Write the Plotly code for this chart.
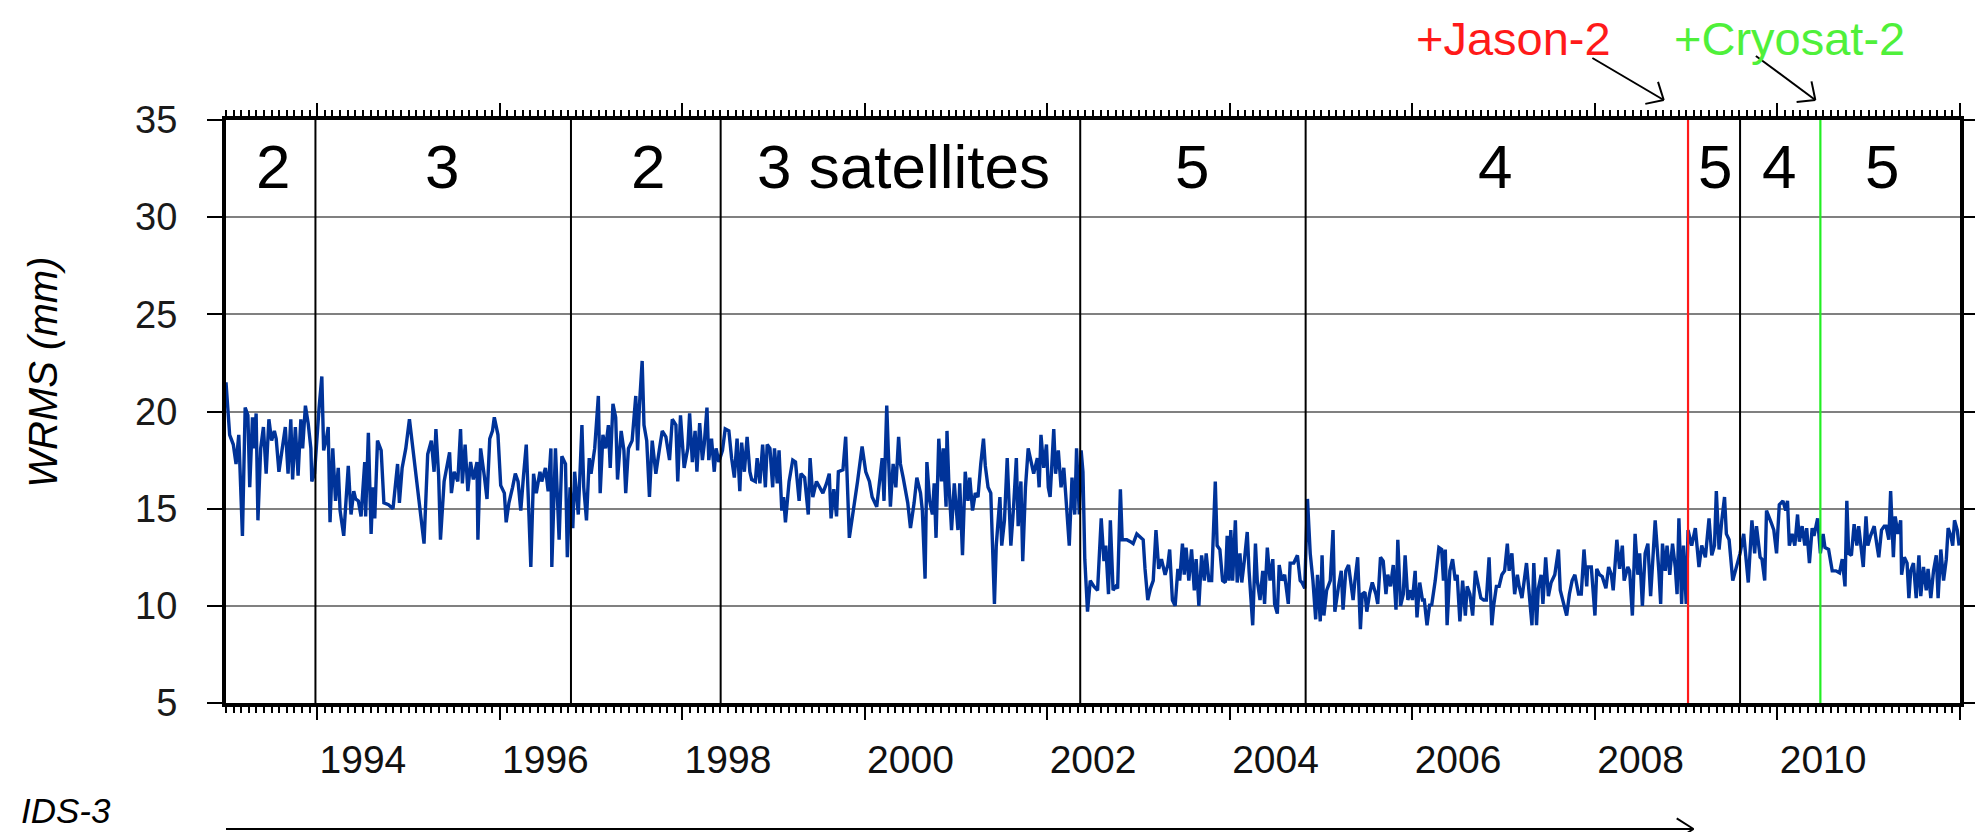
import math
import plotly.graph_objects as go

# ---------------- data (decimal year, WRMS in mm) ----------------
wrms_1993_1997 = [
    (1993.00, 21.5), (1993.04, 18.8), (1993.08, 18.3), (1993.11, 17.3), (1993.14, 18.8), (1993.18, 13.6), (1993.21, 20.2), (1993.24, 19.8), (1993.26, 16.1), (1993.29, 19.7),
    (1993.31, 18.1), (1993.33, 19.9), (1993.35, 14.4), (1993.38, 18.1), (1993.41, 19.2), (1993.44, 16.8), (1993.47, 19.6), (1993.50, 18.5), (1993.53, 19.0), (1993.55, 18.6),
    (1993.58, 16.9), (1993.60, 17.6), (1993.63, 18.6), (1993.65, 19.2), (1993.68, 16.8), (1993.71, 19.6), (1993.73, 16.5), (1993.76, 19.2), (1993.79, 16.7), (1993.82, 19.6),
    (1993.84, 18.1), (1993.87, 20.3), (1993.90, 19.4), (1993.93, 18.1), (1993.94, 16.4), (1993.97, 16.8), (1994.02, 20.2), (1994.05, 21.8), (1994.07, 18.0), (1994.10, 18.6),
    (1994.12, 19.2), (1994.14, 14.3), (1994.17, 18.1), (1994.20, 15.4), (1994.23, 17.1), (1994.25, 14.9), (1994.29, 13.6), (1994.31, 15.3), (1994.34, 17.2), (1994.37, 14.7),
    (1994.40, 15.9), (1994.42, 15.5), (1994.45, 15.4), (1994.48, 14.6), (1994.52, 17.4), (1994.53, 14.6), (1994.56, 18.9), (1994.59, 13.7), (1994.61, 16.1), (1994.63, 14.5),
    (1994.66, 18.5), (1994.70, 18.0), (1994.73, 15.3), (1994.78, 15.2), (1994.83, 15.0), (1994.88, 17.3), (1994.90, 15.3), (1994.93, 17.1), (1994.97, 18.1), (1995.01, 19.6),
    (1995.05, 18.0), (1995.10, 15.7), (1995.17, 13.2), (1995.21, 17.8), (1995.25, 18.5), (1995.28, 16.9), (1995.30, 19.1), (1995.33, 16.7), (1995.35, 13.4), (1995.39, 16.4),
    (1995.42, 17.1), (1995.45, 17.9), (1995.47, 15.8), (1995.50, 16.9), (1995.54, 16.4), (1995.57, 19.1), (1995.59, 16.3), (1995.62, 18.3), (1995.65, 15.9), (1995.68, 17.4),
    (1995.71, 16.5), (1995.75, 17.4), (1995.76, 13.4), (1995.79, 18.1), (1995.83, 16.7), (1995.86, 15.5), (1995.89, 18.6), (1995.92, 19.0), (1995.94, 19.7), (1995.98, 18.8),
    (1996.01, 16.2), (1996.05, 15.8), (1996.07, 14.3), (1996.10, 15.3), (1996.14, 16.1), (1996.17, 16.8), (1996.20, 16.4), (1996.23, 14.9), (1996.26, 16.7), (1996.29, 18.3),
    (1996.32, 14.6), (1996.34, 12.0), (1996.37, 16.8), (1996.40, 15.8), (1996.44, 16.9), (1996.46, 16.4), (1996.50, 17.1), (1996.53, 15.9), (1996.56, 18.1), (1996.57, 12.0),
    (1996.61, 18.1), (1996.63, 15.2), (1996.65, 13.4), (1996.68, 17.7), (1996.72, 17.3), (1996.74, 12.5), (1996.77, 16.1), (1996.80, 14.0), (1996.82, 16.9), (1996.86, 14.7),
    (1996.90, 19.3), (1996.92, 16.1), (1996.95, 14.4), (1996.98, 17.6), (1997.00, 16.8), (1997.04, 18.1), (1997.08, 20.8), (1997.10, 15.8), (1997.13, 18.8), (1997.16, 18.1),
    (1997.19, 19.3), (1997.21, 17.1), (1997.24, 20.4), (1997.27, 19.7), (1997.29, 16.5), (1997.33, 19.0), (1997.36, 18.0), (1997.38, 15.8), (1997.41, 18.1), (1997.45, 18.5),
    (1997.49, 20.8), (1997.51, 18.0), (1997.53, 20.3), (1997.56, 22.6), (1997.58, 19.3), (1997.61, 18.5), (1997.64, 15.6), (1997.67, 18.5), (1997.71, 16.8), (1997.75, 18.1),
]

wrms_1997_2002 = [
    (1997.78, 19.0), (1997.82, 18.7), (1997.86, 17.5), (1997.89, 19.6), (1997.93, 19.3), (1997.95, 16.4), (1997.98, 19.8), (1998.02, 17.1), (1998.06, 18.1), (1998.08, 19.9),
    (1998.11, 17.4), (1998.14, 19.0), (1998.16, 16.9), (1998.19, 19.4), (1998.22, 17.5), (1998.24, 18.3), (1998.27, 20.2), (1998.29, 17.5), (1998.32, 18.6), (1998.35, 16.9),
    (1998.37, 18.1), (1998.40, 17.4), (1998.44, 18.0), (1998.47, 19.1), (1998.51, 19.0), (1998.54, 17.6), (1998.57, 16.6), (1998.60, 18.6), (1998.63, 15.9), (1998.65, 18.4),
    (1998.68, 16.9), (1998.71, 18.7), (1998.74, 16.9), (1998.76, 16.5), (1998.80, 16.4), (1998.82, 17.6), (1998.85, 16.3), (1998.88, 18.3), (1998.91, 16.1), (1998.93, 18.3),
    (1998.96, 18.1), (1998.99, 16.1), (1999.01, 18.1), (1999.04, 16.3), (1999.06, 18.0), (1999.09, 14.9), (1999.11, 15.6), (1999.13, 14.3), (1999.17, 16.4), (1999.21, 17.5),
    (1999.24, 17.4), (1999.28, 15.4), (1999.30, 16.8), (1999.34, 16.6), (1999.38, 14.7), (1999.40, 17.6), (1999.43, 15.6), (1999.47, 16.4), (1999.50, 16.1), (1999.54, 15.8),
    (1999.58, 16.3), (1999.61, 16.8), (1999.63, 14.5), (1999.66, 16.0), (1999.69, 14.6), (1999.71, 16.9), (1999.76, 17.0), (1999.79, 18.7), (1999.83, 13.5), (1999.87, 14.7),
    (1999.92, 16.4), (1999.97, 18.2), (2000.01, 16.9), (2000.05, 16.4), (2000.08, 15.6), (2000.13, 15.1), (2000.16, 16.3), (2000.19, 17.6), (2000.21, 15.4), (2000.24, 20.3),
    (2000.26, 17.6), (2000.28, 15.1), (2000.31, 17.3), (2000.34, 16.1), (2000.37, 18.7), (2000.39, 17.3), (2000.42, 16.6), (2000.45, 15.8), (2000.47, 15.3), (2000.50, 14.0),
    (2000.54, 15.3), (2000.57, 16.6), (2000.61, 15.8), (2000.63, 14.9), (2000.66, 11.4), (2000.68, 17.4), (2000.71, 15.4), (2000.74, 14.7), (2000.76, 16.3), (2000.78, 13.5),
    (2000.81, 18.6), (2000.84, 16.4), (2000.86, 18.1), (2000.89, 15.1), (2000.90, 19.0), (2000.92, 16.4), (2000.95, 13.9), (2000.98, 16.3), (2001.02, 13.9), (2001.04, 16.3),
    (2001.07, 12.6), (2001.10, 16.9), (2001.13, 15.4), (2001.15, 16.6), (2001.18, 14.9), (2001.21, 15.8), (2001.24, 15.6), (2001.27, 17.3), (2001.30, 18.6), (2001.32, 17.2),
    (2001.35, 16.1), (2001.38, 15.8), (2001.42, 10.1), (2001.44, 13.1), (2001.48, 15.6), (2001.50, 13.1), (2001.53, 14.4), (2001.56, 17.6), (2001.59, 14.1), (2001.60, 13.1),
    (2001.63, 15.1), (2001.66, 17.6), (2001.68, 14.1), (2001.71, 16.4), (2001.73, 12.3), (2001.76, 16.1), (2001.79, 18.1), (2001.82, 17.5), (2001.85, 16.8), (2001.89, 17.6),
    (2001.91, 16.1), (2001.93, 18.8), (2001.96, 17.1), (2001.99, 18.3), (2002.01, 16.1), (2002.03, 15.6), (2002.07, 19.1), (2002.09, 16.8), (2002.12, 18.0), (2002.15, 16.1),
    (2002.18, 17.1), (2002.20, 15.8), (2002.24, 13.1), (2002.27, 16.6), (2002.30, 14.7), (2002.32, 18.1), (2002.35, 14.7), (2002.37, 18.0), (2002.39, 16.9), (2002.41, 12.4),
    (2002.44, 9.7),
]

wrms_2002_2007 = [
    (2002.47, 11.3), (2002.51, 11.0), (2002.55, 10.8), (2002.59, 14.5), (2002.62, 12.3), (2002.64, 13.1), (2002.67, 10.6), (2002.69, 14.4), (2002.72, 10.8), (2002.75, 11.0),
    (2002.77, 10.9), (2002.80, 16.0), (2002.82, 13.4), (2002.87, 13.4), (2002.91, 13.3), (2002.94, 13.2), (2002.98, 13.7), (2003.02, 13.5), (2003.05, 13.4), (2003.07, 11.9),
    (2003.10, 10.3), (2003.13, 10.9), (2003.16, 11.3), (2003.19, 13.9), (2003.22, 11.9), (2003.25, 12.4), (2003.29, 11.6), (2003.32, 12.1), (2003.34, 12.9), (2003.37, 10.3),
    (2003.40, 10.0), (2003.43, 11.9), (2003.45, 11.3), (2003.48, 13.2), (2003.50, 11.6), (2003.52, 13.0), (2003.55, 11.3), (2003.58, 12.9), (2003.61, 10.8), (2003.63, 12.4),
    (2003.66, 10.0), (2003.69, 12.6), (2003.72, 11.3), (2003.74, 12.7), (2003.77, 11.3), (2003.80, 11.3), (2003.81, 12.7), (2003.84, 16.4), (2003.86, 13.1), (2003.89, 12.9),
    (2003.92, 11.3), (2003.95, 11.2), (2003.97, 13.6), (2003.99, 11.3), (2004.01, 13.9), (2004.03, 11.3), (2004.06, 14.4), (2004.08, 11.2), (2004.11, 12.7), (2004.13, 11.2),
    (2004.16, 12.4), (2004.19, 13.8), (2004.21, 11.8), (2004.25, 9.0), (2004.28, 13.2), (2004.30, 11.3), (2004.33, 10.3), (2004.36, 11.8), (2004.38, 10.1), (2004.41, 13.0),
    (2004.44, 11.3), (2004.47, 12.4), (2004.49, 10.1), (2004.52, 9.6), (2004.54, 12.1), (2004.57, 11.3), (2004.60, 11.6), (2004.64, 10.1), (2004.66, 12.2), (2004.70, 12.2),
    (2004.74, 12.6), (2004.77, 11.3), (2004.79, 11.2), (2004.82, 10.9), (2004.85, 15.5), (2004.88, 12.7), (2004.91, 11.3), (2004.94, 9.3), (2004.96, 11.6), (2004.99, 9.2),
    (2005.01, 12.6), (2005.03, 9.5), (2005.06, 10.8), (2005.10, 11.3), (2005.13, 13.9), (2005.15, 9.7), (2005.19, 11.0), (2005.22, 11.8), (2005.24, 9.8), (2005.27, 11.8),
    (2005.30, 12.1), (2005.32, 11.3), (2005.35, 10.3), (2005.37, 11.3), (2005.40, 12.5), (2005.43, 8.8), (2005.45, 10.6), (2005.48, 10.7), (2005.50, 9.7), (2005.53, 10.6),
    (2005.56, 11.2), (2005.60, 10.6), (2005.62, 10.1), (2005.65, 12.5), (2005.68, 12.3), (2005.71, 10.6), (2005.73, 11.6), (2005.76, 11.0), (2005.79, 12.1), (2005.82, 9.8),
    (2005.84, 13.4), (2005.87, 10.0), (2005.90, 10.6), (2005.92, 12.6), (2005.95, 10.3), (2005.98, 10.8), (2006.00, 10.3), (2006.03, 11.8), (2006.05, 9.4), (2006.08, 11.2),
    (2006.11, 10.3), (2006.13, 10.3), (2006.16, 9.0), (2006.19, 10.1), (2006.21, 10.0), (2006.25, 11.3), (2006.29, 13.0), (2006.32, 12.9), (2006.34, 11.3), (2006.36, 12.9),
    (2006.38, 9.0), (2006.41, 11.8), (2006.44, 12.4), (2006.47, 11.3), (2006.49, 11.6), (2006.52, 9.2), (2006.55, 11.3), (2006.58, 9.5), (2006.60, 11.0), (2006.63, 10.6),
    (2006.66, 9.5), (2006.69, 11.8), (2006.72, 11.0), (2006.75, 10.4), (2006.78, 10.3), (2006.81, 10.3), (2006.84, 12.5), (2006.87, 9.0), (2006.89, 10.0), (2006.92, 11.0),
    (2006.95, 11.0), (2006.98, 11.6), (2007.01, 11.8), (2007.04, 13.2), (2007.06, 11.8), (2007.09, 12.7), (2007.12, 10.6), (2007.15, 11.6), (2007.17, 11.0), (2007.20, 10.4),
]

wrms_2007_2012 = [
    (2007.25, 12.2), (2007.28, 10.6), (2007.31, 9.0), (2007.33, 12.2), (2007.36, 9.0), (2007.38, 10.9), (2007.41, 11.6), (2007.43, 10.1), (2007.46, 12.5), (2007.49, 10.5),
    (2007.52, 11.2), (2007.56, 11.6), (2007.60, 12.9), (2007.62, 10.8), (2007.66, 10.1), (2007.69, 9.5), (2007.72, 10.6), (2007.75, 11.3), (2007.78, 11.6), (2007.82, 10.6),
    (2007.85, 10.6), (2007.88, 12.9), (2007.91, 11.0), (2007.92, 12.0), (2007.96, 12.0), (2008.00, 9.5), (2008.02, 11.9), (2008.05, 11.6), (2008.08, 11.5), (2008.12, 10.9),
    (2008.15, 12.0), (2008.18, 11.6), (2008.20, 10.8), (2008.24, 13.4), (2008.27, 11.9), (2008.30, 13.1), (2008.32, 11.3), (2008.36, 12.0), (2008.38, 11.8), (2008.41, 9.5),
    (2008.44, 13.7), (2008.47, 11.6), (2008.49, 12.7), (2008.52, 10.0), (2008.55, 12.7), (2008.58, 13.2), (2008.61, 10.5), (2008.64, 12.7), (2008.66, 14.4), (2008.70, 11.8),
    (2008.72, 10.1), (2008.74, 13.2), (2008.77, 11.8), (2008.79, 13.1), (2008.82, 11.6), (2008.85, 13.2), (2008.88, 12.0), (2008.90, 10.6), (2008.92, 14.5), (2008.95, 10.1),
    (2008.97, 13.1), (2009.00, 10.1), (2009.02, 13.9), (2009.06, 13.1), (2009.10, 14.0), (2009.14, 12.0), (2009.17, 13.1), (2009.21, 12.5), (2009.25, 14.5), (2009.28, 12.6),
    (2009.31, 13.1), (2009.33, 15.9), (2009.36, 12.9), (2009.39, 14.4), (2009.42, 15.6), (2009.44, 13.7), (2009.47, 13.4), (2009.51, 11.3), (2009.54, 11.8), (2009.56, 12.2),
    (2009.59, 12.7), (2009.63, 13.7), (2009.65, 12.5), (2009.68, 11.2), (2009.72, 14.4), (2009.75, 12.7), (2009.77, 14.1), (2009.81, 12.5), (2009.83, 12.4), (2009.86, 11.3),
    (2009.88, 14.9), (2009.90, 14.7), (2009.93, 14.3), (2009.96, 13.9), (2009.99, 12.7), (2010.02, 15.2), (2010.06, 15.4), (2010.09, 14.9), (2010.11, 15.4), (2010.13, 13.1),
    (2010.16, 13.7), (2010.19, 13.1), (2010.22, 14.7), (2010.24, 13.3), (2010.27, 14.1), (2010.30, 13.1), (2010.32, 14.0), (2010.35, 12.2), (2010.38, 14.0), (2010.40, 13.6),
    (2010.44, 14.5), (2010.47, 12.7), (2010.50, 13.7), (2010.52, 13.0), (2010.56, 12.9), (2010.60, 11.8), (2010.64, 11.8), (2010.68, 11.7), (2010.71, 12.4), (2010.74, 11.0),
    (2010.76, 15.4), (2010.78, 12.7), (2010.81, 12.6), (2010.84, 14.2), (2010.87, 13.1), (2010.89, 14.1), (2010.92, 12.7), (2010.94, 12.0), (2010.97, 14.6), (2010.99, 13.1),
    (2011.02, 13.6), (2011.06, 14.1), (2011.09, 13.1), (2011.11, 12.5), (2011.14, 13.9), (2011.17, 14.1), (2011.19, 14.1), (2011.22, 13.4), (2011.24, 15.9), (2011.27, 12.5),
    (2011.29, 14.6), (2011.32, 13.7), (2011.35, 14.4), (2011.36, 11.6), (2011.39, 12.5), (2011.42, 12.2), (2011.44, 10.4), (2011.46, 11.8), (2011.49, 12.2), (2011.52, 10.4),
    (2011.55, 12.6), (2011.57, 10.5), (2011.60, 12.0), (2011.63, 10.8), (2011.65, 11.9), (2011.68, 10.4), (2011.71, 11.8), (2011.74, 12.6), (2011.76, 10.4), (2011.79, 12.9),
    (2011.82, 11.3), (2011.85, 12.4), (2011.87, 14.0), (2011.90, 13.6), (2011.92, 13.1), (2011.94, 14.4), (2011.97, 13.9), (2011.99, 13.1),
]

# network changes (black lines), new missions (coloured lines)
network_changes = [1993.98, 1996.78, 1998.42, 2002.36, 2004.83, 2009.59]
jason2_start = 2009.02
cryosat2_start = 2010.47
ids3_end = 2009.08

satellite_labels = ["2", "3", "2", "3 satellites", "5", "4", "5", "4", "5"]
satellite_label_years = [1993.52, 1995.37, 1997.62, 2000.42, 2003.58, 2006.90, 2009.31, 2010.02, 2011.15]

year_labels = [1994, 1996, 1998, 2000, 2002, 2004, 2006, 2008, 2010]
y_ticks = [5, 10, 15, 20, 25, 30, 35]

# ---------------- figure ----------------
W, H = 1983, 832
L, R, T, B = 218, 1968, 112, 695
X0, X1 = 1993.0, 2012.0
FONT = "Liberation Sans, Arial, Helvetica, sans-serif"

pairs = wrms_1993_1997 + wrms_1997_2002 + wrms_2002_2007 + wrms_2007_2012
years = [p[0] for p in pairs]
wrms = [p[1] for p in pairs]


def px_to_paper(px, py):
    return (px - L) / (R - L), (B - py) / (B - T)


def year_to_px(yr):
    return L + (yr - X0) / (X1 - X0) * (R - L)


def arrow(x0, y0, x1, y1, head_len, half_angle, color="black", width=2):
    shapes = []
    a0 = px_to_paper(x0, y0)
    a1 = px_to_paper(x1, y1)
    shapes.append(dict(type="line", xref="paper", yref="paper", x0=a0[0], y0=a0[1], x1=a1[0], y1=a1[1],
                       line=dict(color=color, width=width), layer="above"))
    dx, dy = x0 - x1, y0 - y1
    n = math.hypot(dx, dy)
    dx, dy = dx / n, dy / n
    for s in (1, -1):
        ang = math.radians(half_angle) * s
        rx = dx * math.cos(ang) - dy * math.sin(ang)
        ry = dx * math.sin(ang) + dy * math.cos(ang)
        e = px_to_paper(x1 + head_len * rx, y1 + head_len * ry)
        shapes.append(dict(type="line", xref="paper", yref="paper", x0=a1[0], y0=a1[1], x1=e[0], y1=e[1],
                           line=dict(color=color, width=width), layer="above"))
    return shapes


fig = go.Figure()
fig.add_trace(go.Scatter(x=years, y=wrms, mode="lines", line=dict(color="#003399", width=3.4),
                         showlegend=False, hoverinfo="skip"))
fig.add_trace(go.Scatter(x=[], y=[], xaxis="x2", yaxis="y", showlegend=False))
fig.add_trace(go.Scatter(x=[], y=[], xaxis="x3", yaxis="y", showlegend=False))

tick_common = dict(range=[X0, X1], tick0=1994, dtick=2, ticks="outside", ticklen=13, tickwidth=2,
                   tickcolor="black", showticklabels=False, showline=True, linewidth=4, linecolor="black",
                   showgrid=False, zeroline=False,
                   minor=dict(ticks="outside", tick0=1993, dtick=1 / 12, ticklen=6, tickwidth=1.5,
                              tickcolor="black", showgrid=False))

shapes = []
for b in network_changes:
    shapes.append(dict(type="line", xref="x", yref="paper", x0=b, x1=b, y0=0, y1=1,
                       line=dict(color="black", width=2), layer="above"))
shapes.append(dict(type="line", xref="x", yref="paper", x0=jason2_start, x1=jason2_start, y0=0, y1=1,
                   line=dict(color="#ff1a1a", width=2.2), layer="above"))
shapes.append(dict(type="line", xref="x", yref="paper", x0=cryosat2_start, x1=cryosat2_start, y0=0, y1=1,
                   line=dict(color="#22ee22", width=2.2), layer="above"))

# annotation arrows (pixel geometry of the page)
shapes += arrow(1597, 50, 1669, 92, 19, 42)
shapes += arrow(1762, 48, 1822, 92, 19, 42)
shapes += arrow(year_to_px(X0), 821, year_to_px(ids3_end), 821, 20, 32)

annotations = []
for lab, yr in zip(satellite_labels, satellite_label_years):
    annotations.append(dict(x=yr, y=32.6, xref="x", yref="y", text=lab, showarrow=False,
                            xanchor="center", yanchor="middle",
                            font=dict(family=FONT, size=62, color="black")))

jx, jy = px_to_paper(1517, 2)
annotations.append(dict(x=jx, y=jy, xref="paper", yref="paper", text="+Jason-2", showarrow=False,
                        xanchor="center", yanchor="top", font=dict(family=FONT, size=47, color="#ff1a1a")))
cx, cy = px_to_paper(1796, 2)
annotations.append(dict(x=cx, y=cy, xref="paper", yref="paper", text="+Cryosat-2", showarrow=False,
                        xanchor="center", yanchor="top", font=dict(family=FONT, size=47, color="#4ff03a")))
tx, ty = px_to_paper(33, 364)
annotations.append(dict(x=tx, y=ty, xref="paper", yref="paper", text="<i>WRMS (mm)</i>", showarrow=False,
                        textangle=-90, xanchor="center", yanchor="middle",
                        font=dict(family=FONT, size=40, color="black")))
ix, iy = px_to_paper(104, 802)
annotations.append(dict(x=ix, y=iy, xref="paper", yref="paper", text="<i>IDS-3</i>", showarrow=False,
                        xanchor="right", yanchor="middle", font=dict(family=FONT, size=35, color="black")))

fig.update_layout(
    width=W, height=H,
    margin=dict(l=L, r=W - R, t=T, b=H - B, pad=0),
    paper_bgcolor="white", plot_bgcolor="white",
    showlegend=False,
    xaxis=dict(side="bottom", anchor="y", **tick_common),
    xaxis2=dict(overlaying="x", side="top", anchor="y", **tick_common),
    xaxis3=dict(overlaying="x", side="bottom", anchor="y", range=[X0, X1], tickmode="array",
                tickvals=[y + 0.5 for y in year_labels], ticktext=[str(y) for y in year_labels],
                ticks="", showline=False, showgrid=False, zeroline=False,
                tickfont=dict(family=FONT, size=39, color="#111111"), ticklabelstandoff=30),
    yaxis=dict(range=[5, 35], tickmode="array", tickvals=y_ticks, ticks="outside", ticklen=15,
               tickwidth=2, tickcolor="black", showline=True, linewidth=4, linecolor="black",
               mirror="ticks", showgrid=True, gridcolor="#808080", gridwidth=2, zeroline=False,
               tickfont=dict(family=FONT, size=38, color="#1a1a1a"), ticklabelstandoff=22),
    shapes=shapes,
    annotations=annotations,
)

fig.write_html("out.html")
